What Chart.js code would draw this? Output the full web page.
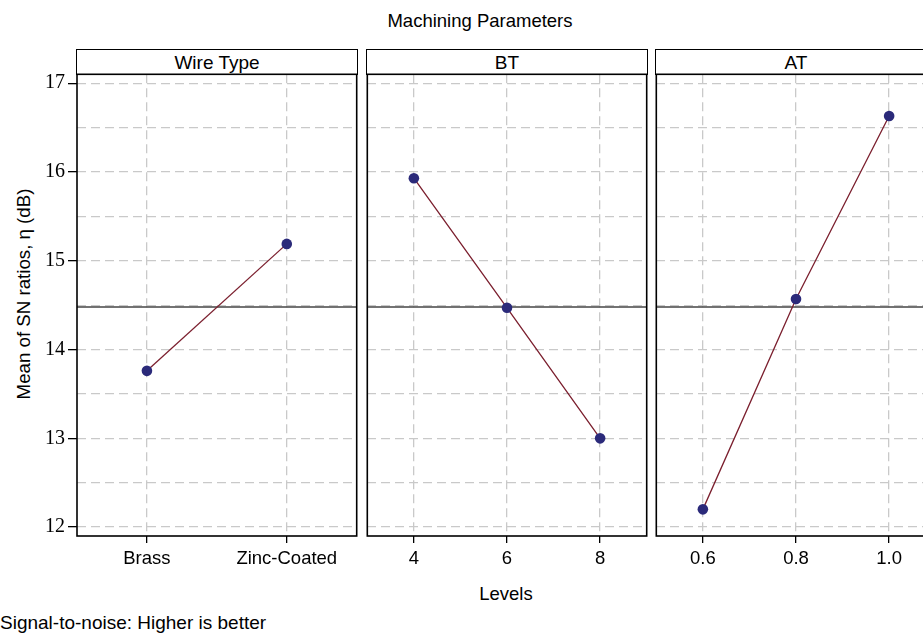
<!DOCTYPE html>
<html>
<head>
<meta charset="utf-8">
<script src="https://cdn.jsdelivr.net/npm/chart.js@4/dist/chart.umd.min.js"></script>
<style>
  html, body { margin:0; padding:0; background:#fff; }
  body { width:923px; height:634px; overflow:hidden; position:relative; font-family:"Liberation Sans", Arial, sans-serif; color:#000; }
  .abs { position:absolute; white-space:nowrap; }
  .hdr { position:absolute; top:49px; height:26px; box-sizing:border-box; border:1.6px solid #000; }
  .hdr span { position:absolute; left:0; right:0; top:2.6px; line-height:20px; text-align:center; font-size:19px; }
  canvas { position:absolute; }
</style>
</head>
<body>
<div class="abs" id="title" style="left:480px; top:10.6px; line-height:20px; font-size:18.5px; transform:translateX(-50%);">Machining Parameters</div>
<div class="abs" id="ytitle" style="left:24px; top:294px; line-height:20px; font-size:18.7px; transform:translate(-50%,-50%) rotate(-90deg);">Mean of SN ratios, η (dB)</div>
<div class="abs" id="xtitle" style="left:506px; top:583.6px; line-height:20px; font-size:18.5px; transform:translateX(-50%);">Levels</div>
<div class="abs" id="footer" style="left:0px; top:613.2px; line-height:20px; font-size:19px;">Signal-to-noise: Higher is better</div>

<div class="hdr" style="left:76px; width:282px;"><span>Wire Type</span></div>
<div class="hdr" style="left:366px; width:282px;"><span>BT</span></div>
<div class="hdr" style="left:655px; width:282px;"><span>AT</span></div>

<canvas id="c1" width="362" height="507" style="left:0px; top:69px;"></canvas>
<canvas id="c2" width="290" height="507" style="left:362px; top:69px;"></canvas>
<canvas id="c3" width="290" height="507" style="left:651px; top:69px;"></canvas>

<script>
// ---- data ----
const wireTypeLevels = ['Brass', 'Zinc-Coated'];
const wireTypeSN = [13.76, 15.19];
const btLevels = ['4', '6', '8'];
const btSN = [15.93, 14.47, 13.00];
const atLevels = ['0.6', '0.8', '1.0'];
const atSN = [12.20, 14.57, 16.63];
const yGridValues = [12, 12.5, 13, 13.5, 14, 14.5, 15, 15.5, 16, 16.5, 17];
const yTickLabels = [12, 13, 14, 15, 16, 17];
const overallMeanSN = 14.48;

// ---- styles ----
const SANS = '"Liberation Sans", Arial, sans-serif';
const SERIF = '"Liberation Serif", "Times New Roman", serif';
const GRID = '#c9c9c9';
const LINE = '#7b1f2e';
const POINT = '#2b2a7a';

const framePlugin = {
  id: 'frame',
  beforeDatasetsDraw(chart) {
    const {ctx, chartArea: a, scales: {y}} = chart;
    const py = y.getPixelForValue(overallMeanSN);
    ctx.save();
    ctx.strokeStyle = '#444444';
    ctx.lineWidth = 1.6;
    ctx.beginPath();
    ctx.moveTo(a.left, py);
    ctx.lineTo(a.right, py);
    ctx.stroke();
    ctx.restore();
  },
  afterDraw(chart) {
    const {ctx, chartArea: a} = chart;
    ctx.save();
    ctx.strokeStyle = '#000';
    ctx.lineWidth = 1.6;
    ctx.strokeRect(a.left, a.top, a.right - a.left, a.bottom - a.top);
    ctx.restore();
  }
};

function makePanel(id, levels, values, showY, padLeft, padRight) {
  return new Chart(document.getElementById(id), {
    type: 'line',
    data: {
      labels: levels,
      datasets: [{
        data: values,
        borderColor: LINE,
        borderWidth: 1.3,
        backgroundColor: POINT,
        pointBackgroundColor: POINT,
        pointBorderColor: POINT,
        pointRadius: 5.3,
        pointBorderWidth: 0,
        tension: 0,
        fill: false,
        clip: false
      }]
    },
    options: {
      responsive: false,
      animation: false,
      events: [],
      layout: { padding: { top: 5, left: padLeft, right: padRight, bottom: 0 } },
      plugins: { legend: { display: false }, tooltip: { enabled: false }, title: { display: false } },
      scales: {
        x: {
          type: 'category',
          offset: true,
          grid: {
            color: GRID, lineWidth: 1.3, offset: false,
            drawTicks: true, tickLength: 7, tickColor: '#000', tickWidth: 1.3, tickBorderDash: []
          },
          border: { display: false, dash: [9, 5] },
          ticks: { color: '#000', font: { family: SANS, size: 18.5 }, padding: 5, maxRotation: 0, autoSkip: false },
          afterFit(s) { s.height = 40; s.paddingLeft = 0; s.paddingRight = 0; }
        },
        y: {
          type: 'linear',
          min: 11.9,
          max: 17.1,
          afterBuildTicks(s) { s.ticks = yGridValues.map(v => ({ value: v })); },
          grid: {
            color: GRID, lineWidth: 1.3,
            drawTicks: showY, tickLength: 9, tickWidth: 1.3, tickBorderDash: [],
            tickColor: c => (c.tick && yTickLabels.includes(c.tick.value)) ? '#000' : 'rgba(0,0,0,0)'
          },
          border: { display: false, dash: [9, 5] },
          ticks: {
            display: showY,
            autoSkip: false,
            color: '#000',
            padding: 3,
            font: { family: SERIF, size: 20 },
            callback: v => yTickLabels.includes(v) ? String(v) : ''
          },
          afterFit(s) { s.width = showY ? 77 : 0; s.paddingTop = 0; s.paddingBottom = 0; }
        }
      }
    },
    plugins: [framePlugin]
  });
}

makePanel('c1', wireTypeLevels, wireTypeSN, true, 0, 5);
makePanel('c2', btLevels, btSN, false, 5, 5);
makePanel('c3', atLevels, atSN, false, 5, 5);
</script>
</body>
</html>
